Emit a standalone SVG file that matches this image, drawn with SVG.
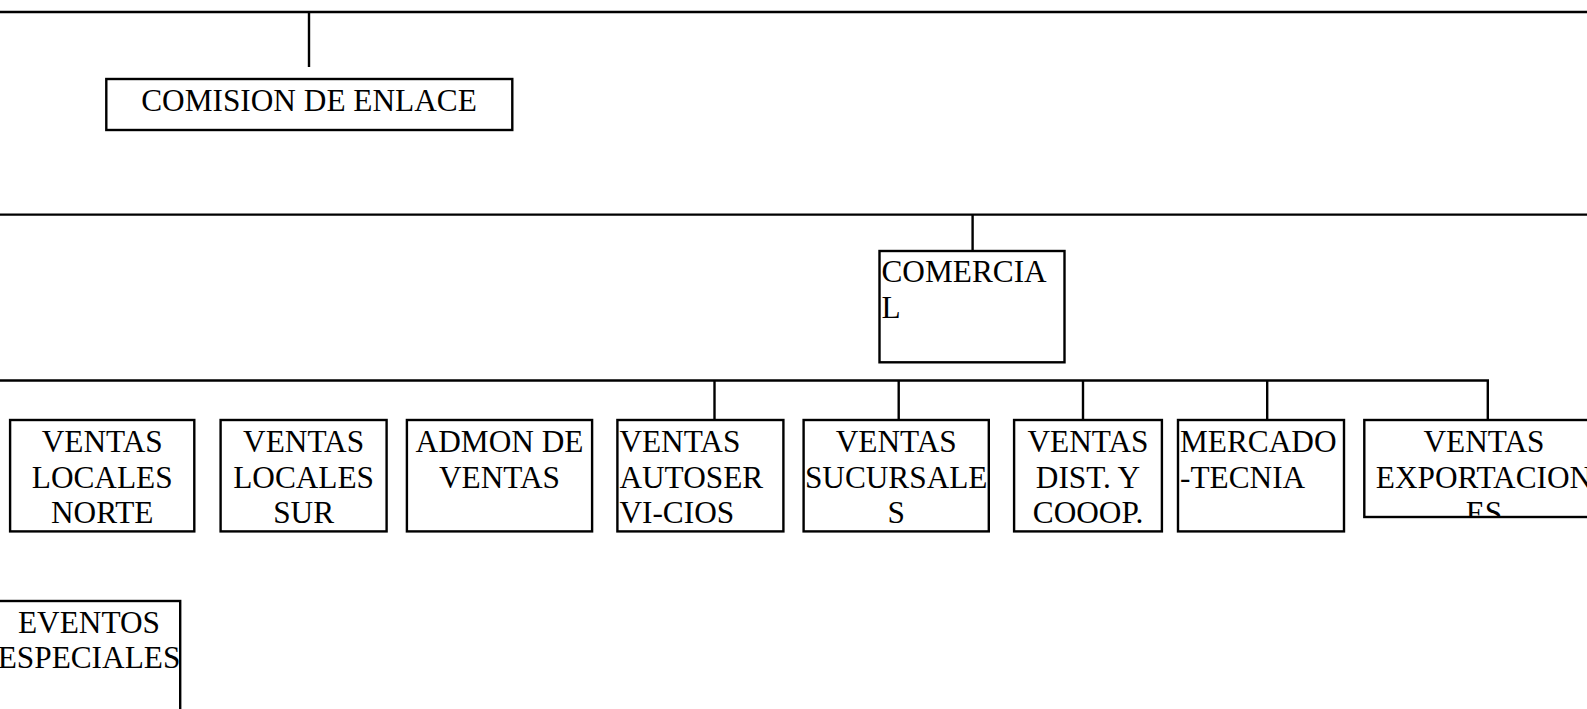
<svg xmlns="http://www.w3.org/2000/svg" width="1587" height="709" viewBox="0 0 1587 709">
<style>
.b{fill:#fff;stroke:#000;stroke-width:2.4}
.l{stroke:#000;stroke-width:2.4;fill:none}
text{font-family:"Liberation Serif","Times New Roman",serif;font-size:31.3px;fill:#000}
.c{text-anchor:middle}
</style>
<defs>
<clipPath id="clip8"><rect x="1365" y="421" width="240" height="95"/></clipPath>
</defs>
<rect width="1587" height="709" fill="#fff"/>
<g id="connectors">
<line class="l" x1="0" y1="12" x2="1587" y2="12"/>
<line class="l" x1="309" y1="12" x2="309" y2="67"/>
<line class="l" x1="0" y1="214.6" x2="1587" y2="214.6"/>
<line class="l" x1="972.6" y1="214.6" x2="972.6" y2="251"/>
<polyline class="l" points="0,380.5 1487.8,380.5 1487.8,420"/>
<line class="l" x1="714.5" y1="380.5" x2="714.5" y2="420"/>
<line class="l" x1="898.7" y1="380.5" x2="898.7" y2="420"/>
<line class="l" x1="1083" y1="380.5" x2="1083" y2="420"/>
<line class="l" x1="1267.2" y1="380.5" x2="1267.2" y2="420"/>
</g>
<g id="comision">
<rect class="b" x="106.3" y="79" width="406" height="51"/>
<text class="c" x="309" y="111.3">COMISION DE ENLACE</text>
</g>
<g id="comercial">
<rect class="b" x="879.5" y="251" width="185" height="111.3"/>
<text x="881.5" y="282">COMERCIA</text>
<text x="881.5" y="317.5">L</text>
</g>
<g id="ventas-norte">
<rect class="b" x="10.1" y="420" width="184.2" height="111.4"/>
<text class="c" x="102.2" y="452.4">VENTAS</text>
<text class="c" x="102.2" y="487.8">LOCALES</text>
<text class="c" x="102.2" y="523.2">NORTE</text>
</g>
<g id="ventas-sur">
<rect class="b" x="220.6" y="420" width="166" height="111.4"/>
<text class="c" x="303.6" y="452.4">VENTAS</text>
<text class="c" x="303.6" y="487.8">LOCALES</text>
<text class="c" x="303.6" y="523.2">SUR</text>
</g>
<g id="admon">
<rect class="b" x="406.9" y="420" width="185.2" height="111.4"/>
<text class="c" x="499.5" y="452.4">ADMON DE</text>
<text class="c" x="499.5" y="487.8">VENTAS</text>
</g>
<g id="autoservicios">
<rect class="b" x="617.4" y="420" width="166" height="111.4"/>
<text x="619.4" y="452.4">VENTAS</text>
<text x="619.4" y="487.8">AUTOSER</text>
<text x="619.4" y="523.2">VI-CIOS</text>
</g>
<g id="sucursales">
<rect class="b" x="803.6" y="420" width="185.2" height="111.4"/>
<text class="c" x="896.2" y="452.4">VENTAS</text>
<text class="c" x="896.2" y="487.8">SUCURSALE</text>
<text class="c" x="896.2" y="523.2">S</text>
</g>
<g id="dist">
<rect class="b" x="1014.1" y="420" width="147.8" height="111.4"/>
<text class="c" x="1088" y="452.4">VENTAS</text>
<text class="c" x="1088" y="487.8">DIST. Y</text>
<text class="c" x="1088" y="523.2">COOOP.</text>
</g>
<g id="mercadotecnia">
<rect class="b" x="1178" y="420" width="166" height="111.4"/>
<text x="1180" y="452.4">MERCADO</text>
<text x="1180" y="487.8">-TECNIA</text>
</g>
<g id="exportaciones">
<rect class="b" x="1364.3" y="420" width="240" height="97"/>
<g clip-path="url(#clip8)">
<text class="c" x="1484" y="452.4">VENTAS</text>
<text class="c" x="1484" y="487.8">EXPORTACION</text>
<text class="c" x="1484" y="523.2">ES</text>
</g>
</g>
<g id="eventos">
<rect class="b" x="-2" y="601" width="182.2" height="130"/>
<text class="c" x="89" y="632.6">EVENTOS</text>
<text class="c" x="89" y="668">ESPECIALES</text>
</g>
</svg>
